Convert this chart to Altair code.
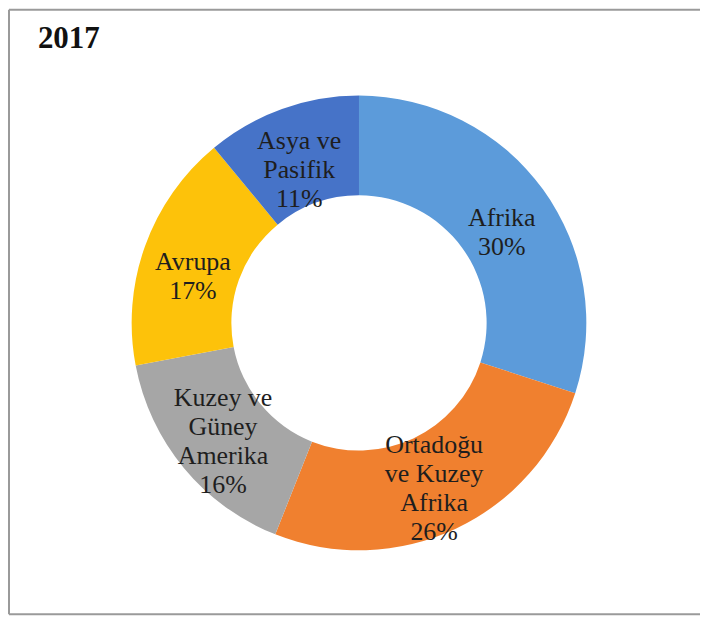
import altair as alt
import pandas as pd

regions = ["Afrika", "Ortadoğu ve Kuzey Afrika", "Kuzey ve Güney Amerika", "Avrupa", "Asya ve Pasifik"]
shares = [30, 26, 16, 17, 11]
label_lines = ["Afrika", "Ortadoğu\nve Kuzey\nAfrika", "Kuzey ve\nGüney\nAmerika", "Avrupa", "Asya ve\nPasifik"]
colors = ["#5C9BDA", "#F0802F", "#A6A6A6", "#FDC20A", "#4673C8"]
title_text = "2017"

labels_full = [f"{l}\n{s}%" for l, s in zip(label_lines, shares)]
df = pd.DataFrame({
    "region": regions,
    "share": shares,
    "order": list(range(len(regions))),
    "label": labels_full,
    "nlines": [t.count("\n") + 1 for t in labels_full],
})

W, H = 693, 606
CX, CY = 351, 314
FONT = "'Liberation Serif', 'Times New Roman', Times, serif"
LH = 29

base = alt.Chart(df).encode(
    theta=alt.Theta("share:Q", stack=True),
    order=alt.Order("order:Q"),
)

arcs = base.mark_arc(innerRadius=128, outerRadius=228).encode(
    x=alt.value(CX), y=alt.value(CY),
    color=alt.Color("region:N", scale=alt.Scale(domain=regions, range=colors), legend=None),
)

label_layers = []
for n in sorted(set(df["nlines"])):
    shift = 13 if n < 4 else 6
    label_layers.append(
        base.mark_text(radius=177, font=FONT, fontSize=26, fontWeight="normal", lineBreak="\n",
                       lineHeight=LH, color="#1e1e1e", align="center", baseline="middle",
                       dy=-(n - 1) * LH / 2 + shift).encode(
            x=alt.value(CX), y=alt.value(CY),
            text="label:N",
            opacity=alt.condition(alt.datum.nlines == n, alt.value(1), alt.value(0)),
        )
    )

title = alt.Chart(pd.DataFrame({"t": [title_text]})).mark_text(
    font=FONT, fontSize=31, fontWeight="bold", color="#111111",
    align="left", baseline="alphabetic").encode(
    x=alt.value(29), y=alt.value(38), text="t:N")

frame_df = pd.DataFrame({"k": [0]})
left = alt.Chart(frame_df).mark_rule(color="#9a9a9a", strokeWidth=2).encode(
    x=alt.value(0), y=alt.value(0), y2=alt.value(H))
top = alt.Chart(frame_df).mark_rule(color="#9a9a9a", strokeWidth=2).encode(
    x=alt.value(0), x2=alt.value(W), y=alt.value(0))
bottom = alt.Chart(frame_df).mark_rule(color="#9a9a9a", strokeWidth=2).encode(
    x=alt.value(0), x2=alt.value(W), y=alt.value(H))

chart = alt.layer(arcs, *label_layers, title, left, top, bottom).properties(
    width=W, height=H, padding=0, background="white"
).configure_view(strokeWidth=0, stroke="transparent").configure_text(font=FONT)

chart.save("out.html", embed_options={"renderer": "svg", "actions": False})
